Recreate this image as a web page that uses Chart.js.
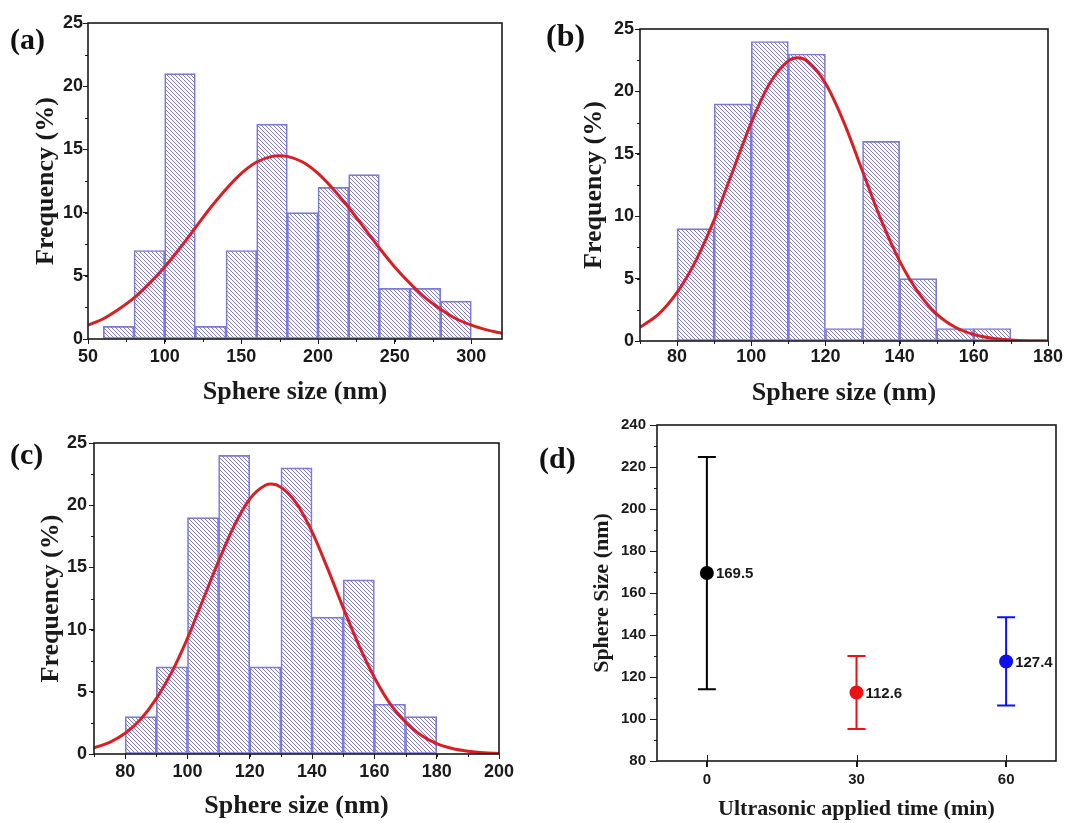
<!DOCTYPE html>
<html>
<head>
<meta charset="utf-8">
<script src="https://cdn.jsdelivr.net/npm/chart.js@4/dist/chart.umd.min.js"></script>
<style>
  body { margin: 0; background: #fff; }
  #wrap { position: relative; width: 1075px; height: 823px; overflow: hidden; }
  canvas { position: absolute; }
  .tag { position: absolute; font: bold 30px "Liberation Serif", serif; line-height: 1; color: #111; }
</style>
</head>
<body>
<div id="wrap">
  <canvas id="chartA" width="540" height="415" style="left:0;top:0"></canvas>
  <canvas id="chartB" width="535" height="415" style="left:540px;top:0"></canvas>
  <canvas id="chartC" width="540" height="413" style="left:0;top:410px"></canvas>
  <canvas id="chartD" width="535" height="413" style="left:540px;top:410px"></canvas>
  <div class="tag" style="left:10px;top:24px">(a)</div>
  <div class="tag" style="left:546px;top:19px;font-size:32px">(b)</div>
  <div class="tag" style="left:10px;top:439px">(c)</div>
  <div class="tag" style="left:539px;top:443px">(d)</div>
</div>
<script>
// (a) 20 nm bins
const aBins = [70, 90, 110, 130, 150, 170, 190, 210, 230, 250, 270, 290];
const aFreq = [1, 7, 21, 1, 7, 17, 10, 12, 13, 4, 4, 3];
const aFitX = [50, 60, 70, 80, 90, 100, 110, 120, 130, 140, 150, 160, 170, 175, 180, 190, 200, 210, 220, 230, 240, 250, 260, 270, 280, 290, 300, 310, 320];
const aFitY = [1.1, 1.6, 2.35, 3.25, 4.4, 5.7, 7.2, 8.8, 10.4, 11.85, 13.1, 14.0, 14.45, 14.5, 14.45, 14.0, 13.1, 11.85, 10.4, 8.8, 7.2, 5.7, 4.4, 3.25, 2.35, 1.6, 1.1, 0.72, 0.45];
const aXTicks = [50, 100, 150, 200, 250, 300];

// (b) 10 nm bins
const bBins = [85, 95, 105, 115, 125, 135, 145, 155, 165];
const bFreq = [9, 19, 24, 23, 1, 16, 5, 1, 1];
const bFitX = [70, 75, 80, 85, 90, 95, 100, 105, 110, 112.5, 115, 120, 125, 130, 135, 140, 145, 150, 155, 160, 165, 170, 175, 180];
const bFitY = [1.1, 2.15, 3.9, 6.4, 9.7, 13.6, 17.5, 20.65, 22.45, 22.7, 22.45, 20.65, 17.5, 13.6, 9.7, 6.4, 3.9, 2.15, 1.1, 0.52, 0.22, 0.09, 0.03, 0.01];
const bXTicks = [80, 100, 120, 140, 160, 180];

// (c) 10 nm bins
const cBins = [85, 95, 105, 115, 125, 135, 145, 155, 165, 175];
const cFreq = [3, 7, 19, 24, 7, 23, 11, 14, 4, 3];
const cFitX = [70, 75, 80, 85, 90, 95, 100, 105, 110, 115, 120, 125, 127, 130, 135, 140, 145, 150, 155, 160, 165, 170, 175, 180, 185, 190, 195, 200];
const cFitY = [0.5, 0.94, 1.67, 2.8, 4.45, 6.6, 9.3, 12.4, 15.5, 18.35, 20.5, 21.6, 21.7, 21.45, 20.15, 17.85, 14.9, 11.75, 8.75, 6.15, 4.05, 2.55, 1.5, 0.83, 0.44, 0.22, 0.1, 0.05];
const cXTicks = [80, 100, 120, 140, 160, 180, 200];

const freqTicks = [0, 5, 10, 15, 20, 25];

// (d) mean sphere size vs ultrasonic time
const dTimes = [0, 30, 60];
const dMeans = [169.5, 112.6, 127.4];
const dLow = [114.2, 95.2, 106.4];
const dHigh = [224.8, 130.0, 148.4];
const dColors = ['#000000', '#ee1111', '#1010ee'];
const dXTicks = [0, 30, 60];
const dYTicks = [80, 100, 120, 140, 160, 180, 200, 220, 240];

const INK = '#1a1a1a';
const RED = '#d62024';
const EDGE = '#7c7cd4';
const SANS = '"Liberation Sans", Arial, sans-serif';
const SERIF = '"Liberation Serif", "Times New Roman", serif';

function hatch(color) {
    const s = 4;
    const c = document.createElement('canvas');
    c.width = s;
    c.height = s;
    const g = c.getContext('2d');
    g.strokeStyle = color;
    g.lineWidth = 0.9;
    g.beginPath();
    for (let k = -1; k <= 1; k++) {
        g.moveTo(-1, -1 + k * s);
        g.lineTo(s + 1, s + 1 + k * s);
    }
    g.stroke();
    return g.createPattern(c, 'repeat');
}

// box frame + minor ticks (Origin style)
const frame = {
    id: 'frame',
    afterDraw(chart, args, opts) {
        const {ctx, chartArea: a, scales: {x, y}} = chart;
        ctx.save();
        ctx.strokeStyle = INK;
        ctx.lineWidth = 1;
        ctx.beginPath();
        if (opts.xMinor) {
            for (let i = 0; x.min + i * opts.xMinor <= x.max + 1e-9; i++) {
                const px = Math.round(x.getPixelForValue(x.min + i * opts.xMinor)) + 0.5;
                ctx.moveTo(px, a.bottom);
                ctx.lineTo(px, a.bottom + 3);
            }
        }
        if (opts.yMinor) {
            for (let i = 0; y.min + i * opts.yMinor <= y.max + 1e-9; i++) {
                const py = Math.round(y.getPixelForValue(y.min + i * opts.yMinor)) + 0.5;
                ctx.moveTo(a.left, py);
                ctx.lineTo(a.left - 3, py);
            }
        }
        if (opts.xInner) {
            x.ticks.forEach(t => {
                const px = Math.round(x.getPixelForValue(t.value)) + 0.5;
                ctx.moveTo(px, a.bottom);
                ctx.lineTo(px, a.bottom - opts.xInner);
            });
        }
        ctx.stroke();
        ctx.lineWidth = 1.6;
        ctx.strokeRect(a.left, a.top, a.right - a.left, a.bottom - a.top);
        ctx.restore();
    }
};

function xAxis(o) {
    return {
        type: 'linear', min: o.min, max: o.max, offset: false,
        afterBuildTicks: s => { s.ticks = o.ticks.map(v => ({value: v})); },
        afterFit: s => { s.height = o.height; },
        grid: {display: true, offset: false, drawOnChartArea: false, drawTicks: true, tickLength: o.tickLength || 5, color: INK, lineWidth: o.tickWidth || 1},
        border: {display: false},
        ticks: {color: INK, padding: o.tickPad, maxRotation: 0, autoSkip: false, font: {family: SANS, size: o.fontSize, weight: 'bold'}},
        title: {display: true, text: o.title, color: INK, padding: {top: 0, bottom: o.titlePad}, font: {family: SERIF, size: o.titleSize, weight: 'bold'}}
    };
}

function yAxis(o) {
    return {
        type: 'linear', min: o.min, max: o.max,
        afterBuildTicks: s => { s.ticks = o.ticks.map(v => ({value: v})); },
        afterFit: s => { s.width = o.width; },
        grid: {display: true, drawOnChartArea: false, drawTicks: true, tickLength: o.tickLength || 5, color: INK, lineWidth: 1},
        border: {display: false},
        ticks: {color: INK, padding: o.tickPad, font: {family: SANS, size: o.fontSize, weight: 'bold'}},
        title: {display: true, text: o.title, color: INK, padding: {top: o.titlePad, bottom: 0}, font: {family: SERIF, size: o.titleSize, weight: 'bold'}}
    };
}

function histogram(id, bins, freq, fitX, fitY, cfg) {
    new Chart(document.getElementById(id), {
        type: 'bar',
        data: {
            datasets: [{
                type: 'line',
                data: fitX.map((x, i) => ({x: x, y: fitY[i]})),
                borderColor: RED,
                borderWidth: 3,
                pointRadius: 0,
                cubicInterpolationMode: 'monotone',
                order: 0
            }, {
                type: 'bar',
                data: bins.map((x, i) => ({x: x, y: freq[i]})),
                backgroundColor: hatch('#7070c0'),
                borderColor: EDGE,
                borderWidth: 1,
                borderSkipped: false,
                barPercentage: 1,
                categoryPercentage: 1,
                order: 1
            }]
        },
        options: {
            responsive: false,
            animation: false,
            layout: {padding: {top: cfg.top, right: cfg.right, left: 0, bottom: 0}},
            plugins: {
                legend: {display: false},
                tooltip: {enabled: false},
                frame: {xMinor: cfg.xMinor, yMinor: 2.5}
            },
            scales: {
                x: xAxis({min: cfg.xMin, max: cfg.xMax, ticks: cfg.xTicks, height: cfg.xHeight, tickPad: cfg.xTickPad,
                          fontSize: 18, title: 'Sphere size (nm)', titleSize: 26, titlePad: cfg.xTitlePad}),
                y: yAxis({min: 0, max: 25, ticks: freqTicks, width: cfg.yWidth, tickPad: cfg.yTickPad,
                          fontSize: 18, title: 'Frequency (%)', titleSize: 26, titlePad: cfg.yTitlePad})
            }
        },
        plugins: [frame]
    });
}

histogram('chartA', aBins, aFreq, aFitX, aFitY, {
    top: 23, right: 38, xMin: 50, xMax: 320, xTicks: aXTicks, xMinor: 25,
    xHeight: 76, xTickPad: 2, xTitlePad: 7, yWidth: 88, yTickPad: 0, yTitlePad: 31
});
histogram('chartB', bBins, bFreq, bFitX, bFitY, {
    top: 29, right: 27, xMin: 70, xMax: 180, xTicks: bXTicks, xMinor: 10,
    xHeight: 74, xTickPad: 0, xTitlePad: 6, yWidth: 100, yTickPad: 1, yTitlePad: 39
});
histogram('chartC', cBins, cFreq, cFitX, cFitY, {
    top: 33, right: 41, xMin: 70, xMax: 200, xTicks: cXTicks, xMinor: 10,
    xHeight: 69, xTickPad: 2, xTitlePad: 1, yWidth: 94, yTickPad: 2, yTitlePad: 36
});

// error bars and value labels for (d)
const errorBars = {
    id: 'errorBars',
    beforeDatasetsDraw(chart) {
        const {ctx, scales: {x, y}} = chart;
        ctx.save();
        ctx.lineWidth = 2;
        dTimes.forEach((t, i) => {
            const px = x.getPixelForValue(t);
            const lo = y.getPixelForValue(dLow[i]);
            const hi = y.getPixelForValue(dHigh[i]);
            ctx.strokeStyle = dColors[i];
            ctx.beginPath();
            ctx.moveTo(px, lo); ctx.lineTo(px, hi);
            ctx.moveTo(px - 9, lo); ctx.lineTo(px + 9, lo);
            ctx.moveTo(px - 9, hi); ctx.lineTo(px + 9, hi);
            ctx.stroke();
        });
        ctx.restore();
    },
    afterDatasetsDraw(chart) {
        const {ctx} = chart;
        const pts = chart.getDatasetMeta(0).data;
        ctx.save();
        ctx.fillStyle = INK;
        ctx.font = 'bold 15px ' + SANS;
        ctx.textBaseline = 'middle';
        pts.forEach((p, i) => ctx.fillText(dMeans[i].toFixed(1), p.x + 9, p.y + 1));
        ctx.restore();
    }
};

new Chart(document.getElementById('chartD'), {
    type: 'scatter',
    data: {
        datasets: [{
            data: dTimes.map((t, i) => ({x: t, y: dMeans[i]})),
            pointRadius: 7,
            pointBackgroundColor: dColors,
            pointBorderColor: dColors,
            pointBorderWidth: 0
        }]
    },
    options: {
        responsive: false,
        animation: false,
        layout: {padding: {top: 15, right: 19, left: 0, bottom: 0}},
        plugins: {
            legend: {display: false},
            tooltip: {enabled: false},
            frame: {yMinor: 10, xInner: 6}
        },
        scales: {
            x: xAxis({min: -10, max: 70, ticks: dXTicks, height: 62, tickPad: 4, tickLength: 6, tickWidth: 2,
                      fontSize: 15, title: 'Ultrasonic applied time (min)', titleSize: 22, titlePad: 0}),
            y: yAxis({min: 80, max: 240, ticks: dYTicks, width: 117, tickPad: 4, tickLength: 7,
                      fontSize: 15, title: 'Sphere Size (nm)', titleSize: 22, titlePad: 49})
        }
    },
    plugins: [frame, errorBars]
});
</script>
</body>
</html>
